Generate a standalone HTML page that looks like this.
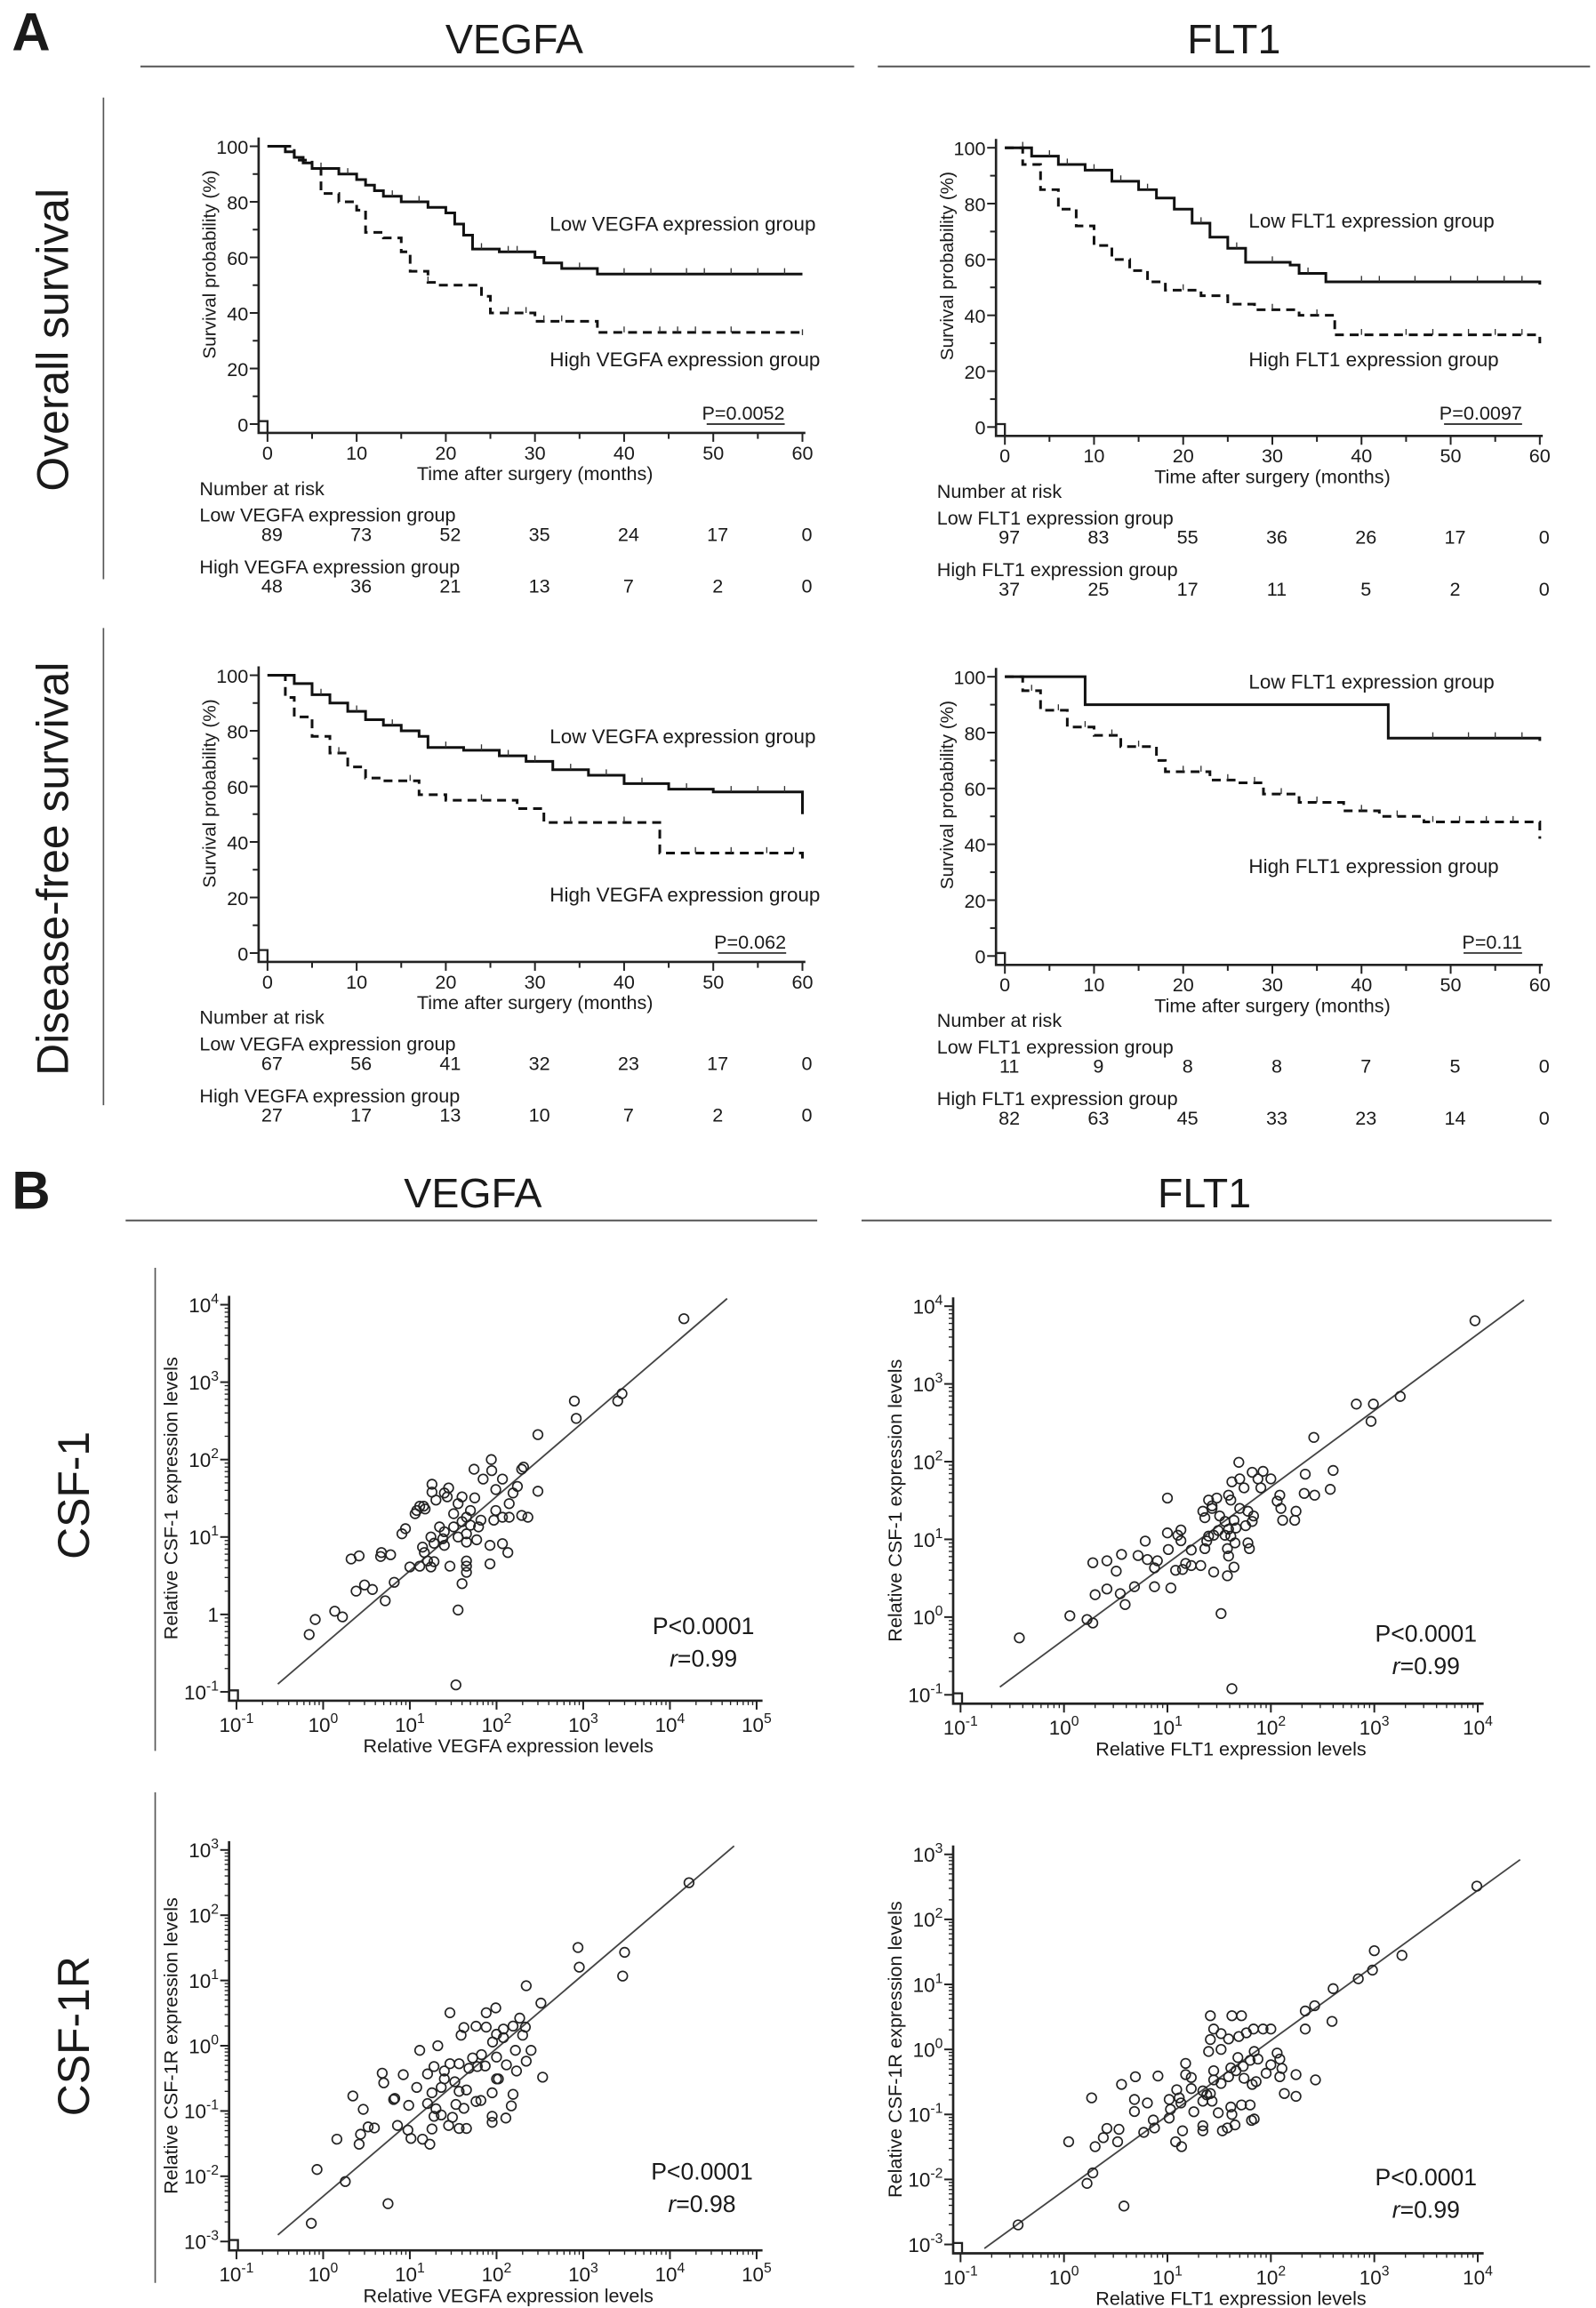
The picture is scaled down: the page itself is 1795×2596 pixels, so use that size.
<!DOCTYPE html>
<html><head><meta charset="utf-8"><style>
html,body{margin:0;padding:0;background:#fff}
svg{display:block}
text{font-family:"Liberation Sans",sans-serif;fill:#1a1a1a}
</style></head><body>
<svg id="fig" xmlns="http://www.w3.org/2000/svg" width="1795" height="2596" viewBox="0 0 1080 1562">
<rect width="1080" height="1562" fill="#fff"/>
<text x="8" y="34" font-size="36" font-weight="bold">A</text>
<text x="348" y="36" font-size="28" text-anchor="middle">VEGFA</text>
<line x1="95" y1="45" x2="578" y2="45" stroke="#555" stroke-width="1.2"/>
<text x="835" y="36" font-size="28" text-anchor="middle">FLT1</text>
<line x1="594" y1="45" x2="1076" y2="45" stroke="#555" stroke-width="1.2"/>
<line x1="70" y1="66" x2="70" y2="392" stroke="#555"/>
<line x1="70" y1="425" x2="70" y2="748" stroke="#555"/>
<text transform="translate(46,230) rotate(-90)" font-size="30" text-anchor="middle">Overall survival</text>
<text transform="translate(46,588) rotate(-90)" font-size="30" text-anchor="middle">Disease-free survival</text>

<text x="8" y="818" font-size="36" font-weight="bold">B</text>
<text x="320" y="817" font-size="28" text-anchor="middle">VEGFA</text>
<line x1="85" y1="826" x2="553" y2="826" stroke="#555" stroke-width="1.2"/>
<text x="815" y="817" font-size="28" text-anchor="middle">FLT1</text>
<line x1="583" y1="826" x2="1050" y2="826" stroke="#555" stroke-width="1.2"/>
<line x1="105" y1="858" x2="105" y2="1185" stroke="#555"/>
<line x1="105" y1="1213" x2="105" y2="1545" stroke="#555"/>
<text transform="translate(60,1012) rotate(-90)" font-size="30" text-anchor="middle">CSF-1</text>
<text transform="translate(60,1378) rotate(-90)" font-size="30" text-anchor="middle">CSF-1R</text>
</svg>
<script>
// ---------- Kaplan-Meier data ----------
const kmTicksX=[0,10,20,30,40,50,60];
const kmTicksY=[0,20,40,60,80,100];
const osVegfaLowT=[0,2,3,4,5,8,10,11,12,13,15,18,20,21,22,23,26,30,31,33,37,60];
const osVegfaLowS=[100,98,96,94,92,90,88,86,84,82,80,78,76,72,68,63,62,60,58,56,54,54];
const osVegfaLowC=[3,6,9,14,17,24,27,28,35,40,43,47,49,52,55,58];
const osVegfaHighT=[0,3,5,6,8,10,11,13,15,16,18,19,24,25,30,37,60];
const osVegfaHighS=[100,95,92,83,80,77,69,67,62,55,51,50,46,40,37,33,32];
const osVegfaHighC=[18,27,29,31,33,40,44,46,48,52,60];
const osFltLowT=[0,3,6,9,12,15,17,19,21,23,25,27,32,33,36,60];
const osFltLowS=[100,97,94,92,88,85,82,78,73,68,64,59,58,55,52,51];
const osFltLowC=[2,5,7,10,13,16,22,26,30,34,40,42,46,50,53,56,58];
const osFltHighT=[0,2,4,6,8,10,12,14,16,18,22,25,28,33,37,60];
const osFltHighS=[100,94,85,78,72,65,60,56,52,49,47,44,42,40,33,30];
const osFltHighC=[20,30,35,40,45,48,52,55,58];
const dfsVegfaLowT=[0,3,5,7,9,11,13,15,17,18,22,26,29,32,36,40,45,50,60];
const dfsVegfaLowS=[100,97,93,90,87,84,82,80,78,74,73,71,69,66,64,61,59,58,50];
const dfsVegfaLowC=[6,10,14,20,24,27,30,34,38,42,47,52,55,58];
const dfsVegfaHighT=[0,2,3,5,7,9,11,13,17,20,28,31,44,60];
const dfsVegfaHighS=[100,92,85,78,72,67,63,62,57,55,52,47,36,34];
const dfsVegfaHighC=[8,16,24,34,40,48,52,56,59];
const dfsFltLowT=[0,9,43,60];
const dfsFltLowS=[100,90,78,77];
const dfsFltLowC=[48,52,55,58];
const dfsFltHighT=[0,2,4,7,10,13,17,18,23,26,29,33,38,42,47,60];
const dfsFltHighS=[100,95,88,82,79,75,70,66,63,62,58,55,52,50,48,42];
const dfsFltHighC=[3,6,9,12,15,20,22,25,28,31,35,40,44,48,51,54,57];
const osVegfaRiskLow=[89,73,52,35,24,17,0];
const osVegfaRiskHigh=[48,36,21,13,7,2,0];
const osFltRiskLow=[97,83,55,36,26,17,0];
const osFltRiskHigh=[37,25,17,11,5,2,0];
const dfsVegfaRiskLow=[67,56,41,32,23,17,0];
const dfsVegfaRiskHigh=[27,17,13,10,7,2,0];
const dfsFltRiskLow=[11,9,8,8,7,5,0];
const dfsFltRiskHigh=[82,63,45,33,23,14,0];

// ---------- Scatter data (raw relative expression) ----------
const s1X=[14500,790,830,2500,2800,300,300,87,55,88,117,195,205,174,98,70,56,40,155,140,117,140,230,195,98,93,66,50,45,36,32,25,28,27,18,18,20,14.4,11.5,12,22,25,32,40,50,62,45,36,24,17.5,19,25,45,59,84,117,135,84,45,45,45,40,29,36,34,14,14.7,16,17.5,19,13,10,8.1,8.9,6,4.7,4.6,2.6,2.1,2.4,3,3.7,6.6,5.2,1.36,1.67,0.81,0.69,13,15];
const s1Y=[6600,570,340,570,710,210,39,100,75,72,56,75,80,45,41,56,32,33,37,27,18,18,18,19,22,16.5,16.5,22,18,27,20,37,43,33,48,38,30,25,20,22,13.5,11.7,13.5,15.8,14.2,13.5,11,10,9.5,10,8.3,7.8,8.6,9.2,7.8,8.2,6.3,4.5,4.9,4.2,3.5,2.5,4.2,1.14,0.123,7.4,6.3,4.9,4.1,4.8,4.2,4.1,11,12.8,5.9,6.3,5.6,5.7,5.2,2.0,2.4,2.1,2.6,1.5,1.1,0.93,0.86,0.55,25,23];
const s1Fit=[[0.30,0.126],[45700,12000]];
const s2X=[9400,670,980,930,1780,260,215,400,375,210,265,175,170,130,125,115,122,100,84,66,49,50,42,75,80,55,39,41,30,25,27,22,23,27,32,36,44,50,60,68,66,57,46,39,31,25,28,36,41,45,60,62,38,39,44,38,28,33,42,23,24,17,21,17,15,14,12,13.5,12.6,13.5,10.2,10,10,8,7.5,6.1,6.4,5.2,3.6,3.2,2.6,1.9,2.6,2.0,3.5,3.9,4.8,7.5,10.8,1.14,1.67,1.9,0.37];
const s2Y=[6500,550,550,330,690,205,69,77,44,39,37,23,17.6,17.6,25,31,37,60,75,73,98,60,55,60,46,46,37,32,34,32,27,23,19,25,20,17,17.6,25,23,20,17,15,14,13.5,13,11,11.3,11.3,11,9,9,7.6,7.6,6.1,4.4,3.4,3.8,1.11,0.12,7.6,9.5,7.3,4.6,4.6,4.9,4.1,4.0,9.6,11.3,13.2,7.4,12.1,34,5.3,4.3,9.5,5.5,6.2,6.4,3.9,5.3,5.0,2.3,1.94,2.0,1.45,2.46,2.46,2.37,1.04,0.93,0.84,0.54];
const s2Fit=[[0.24,0.126],[28000,12000]];
const s3X=[16600,870,900,3000,2850,220,325,340,29,98,76,42,39,58,76,100,120,155,185,215,200,90,120,165,250,220,170,130,100,100,67,74,60,48,53,37,29,25,21,13,19,16,12,16,18,23,19,20,28,31,34,42,37,45,37,45,58,66,89,89,89,128,148,155,105,25,23,33,18,14,17,10.3,9.5,9.7,7.2,8.4,5.0,4.8,6.7,6.5,3.9,3.3,2.9,2.2,2.7,2.6,1.44,0.85,1.8,5.6,0.73];
const s3Y=[315,32,16,27,11.7,8.3,4.5,0.33,3.2,3.8,3.2,1.9,1.45,1.99,1.93,1.5,1.8,2.0,2.65,1.93,1.45,1.14,1.33,0.85,0.85,0.58,0.41,0.51,0.67,0.31,0.73,0.49,0.48,0.45,0.65,0.53,0.53,0.41,1.0,0.85,0.48,0.37,0.23,0.13,0.19,0.087,0.083,0.108,0.06,0.08,0.126,0.11,0.054,0.054,0.2,0.21,0.14,0.145,0.19,0.083,0.067,0.078,0.12,0.18,0.31,0.31,0.23,0.28,0.053,0.037,0.031,0.038,0.051,0.122,0.06,0.36,0.27,0.38,0.156,0.15,0.055,0.057,0.106,0.17,0.044,0.031,0.037,0.0127,0.0083,0.0038,0.0019];
const s3Fit=[[0.30,0.00126],[55000,1150]];
const s4X=[9800,1000,1850,960,700,400,265,215,215,390,270,175,175,135,122,128,122,115,100,90,100,84,68,58,49,52,42,26,28,33,26,25,39,33,48,69,75,63,54,41,46,55,66,72,39,33,28,28,26,27,22,22,24,17,15,15,17,12.3,13,13.5,10.4,10.7,10.4,18,31,41,42,52,63,65,69,45,38,34,22,22,14,12,13.7,8.1,6.4,7.3,7.5,5.9,4.9,4.8,4.8,3.6,3.4,3.3,2.6,2.4,2.0,1.85,1.11,1.9,1.67,3.8,0.36];
const s4Y=[325,33,28,16.6,12.2,8.6,4.7,3.9,2.06,2.7,0.34,0.41,0.19,0.21,0.38,0.51,0.71,0.88,0.58,0.43,2.06,2.06,2.06,1.8,1.58,3.3,3.3,3.3,2.06,1.75,1.42,0.93,1.45,1.0,0.75,0.93,0.71,0.68,0.55,0.52,0.47,0.36,0.29,0.32,0.38,0.3,0.34,0.47,0.21,0.16,0.23,0.16,0.2,0.37,0.41,0.61,0.25,0.24,0.18,0.15,0.17,0.12,0.088,0.11,0.106,0.13,0.1,0.14,0.14,0.081,0.085,0.069,0.062,0.056,0.067,0.056,0.056,0.038,0.032,0.39,0.15,0.082,0.062,0.053,0.38,0.17,0.111,0.29,0.059,0.038,0.061,0.044,0.032,0.18,0.038,0.0126,0.0087,0.0039,0.002];
const s4Fit=[[0.17,0.00087],[25700,830]];

const NS='http://www.w3.org/2000/svg';
const svg=document.getElementById('fig');
function mk(tag,attrs,parent){const e=document.createElementNS(NS,tag);for(const k in attrs)e.setAttribute(k,attrs[k]);(parent||svg).appendChild(e);return e;}
function txt(s,attrs,parent){const e=mk('text',attrs,parent);e.textContent=s;return e;}

function stepAt(T,S,t){let v=S[0];for(let i=0;i<T.length;i++){if(T[i]<=t)v=S[i];}return v;}
function kmPlot(cfg){
  const g=mk('g',{});
  
  
  const x=t=>cfg.x0+(t/60)*(cfg.x60-cfg.x0);
  const y=s=>cfg.y0+(s/100)*(cfg.y100-cfg.y0);
  const ax=cfg.x0-6, ay=cfg.y0+6;
  const axes=mk('path',{d:`M${ax},${cfg.y100-6}V${ay}H${x(60)+2}`,fill:'none',stroke:'#222','stroke-width':1.6},g);
  
  
  mk('path',{d:`M${ax},${ay-8}H${ax+6}V${ay}`,fill:'none',stroke:'#222','stroke-width':1.4},g);
  for(let t=0;t<=60;t+=5){mk('line',{x1:x(t),x2:x(t),y1:ay,y2:ay+(t%10===0?6:4),stroke:'#222','stroke-width':1.2},g);}
  for(let s=0;s<=100;s+=10){mk('line',{x1:ax-(s%20===0?6:4),x2:ax,y1:y(s),y2:y(s),stroke:'#222','stroke-width':1.2},g);}
  kmTicksX.forEach(t=>{const e=txt(String(t),{x:x(t),y:ay+18,'font-size':13,'text-anchor':'middle'},g);
    
    });
  kmTicksY.forEach(s=>{const e=txt(String(s),{x:ax-7,y:y(s)+5,'font-size':13,'text-anchor':'end'},g);
    
    });
  const yt=txt('Survival probability (%)',{transform:`translate(${ax-29},${cfg.y100+80}) rotate(-90)`,'font-size':12.5,'text-anchor':'middle'},g);
  
  
  const xt=txt('Time after surgery (months)',{x:x(30),y:ay+32,'font-size':13,'text-anchor':'middle'},g);
  
  
  cfg.series.forEach(sr=>{
    let d=`M${x(sr.T[0])},${y(sr.S[0])}`;
    for(let i=1;i<sr.T.length;i++){d+=`H${x(sr.T[i])}V${y(sr.S[i])}`;}
    const p=mk('path',{d:d,fill:'none',stroke:'#111','stroke-width':1.8,'stroke-dasharray':sr.dash?'6,4':'none'},g);
    
    
    sr.C.forEach(t=>{const v=stepAt(sr.T,sr.S,t);mk('line',{x1:x(t),x2:x(t),y1:y(v),y2:y(v)-4,stroke:'#333','stroke-width':0.8},g);});
  });
  cfg.labels.forEach(l=>{const e=txt(l.t,{x:l.x,y:l.y,'font-size':13.5},g);
    
    });
  const pv=txt(cfg.p,{x:cfg.px,y:cfg.py,'font-size':13,'text-anchor':'end'},g);
  
  
  const pw=cfg.p.length*6.6;
  mk('line',{x1:cfg.px-pw,x2:cfg.px,y1:cfg.py+3,y2:cfg.py+3,stroke:'#222','stroke-width':1},g);
  const lx=ax-40, base=ay+42;
  const nr=txt('Number at risk',{x:lx,y:base,'font-size':13},g);
  
  
  const lowL=txt(cfg.lowName,{x:lx,y:base+18,'font-size':13},g);
  
  
  const highL=txt(cfg.highName,{x:lx,y:base+53,'font-size':13},g);
  
  
  kmTicksX.forEach((t,i)=>{
    const a=txt(String(cfg.riskLow[i]),{x:x(t)+3,y:base+31,'font-size':13,'text-anchor':'middle'},g);
    
    
    const b=txt(String(cfg.riskHigh[i]),{x:x(t)+3,y:base+66,'font-size':13,'text-anchor':'middle'},g);
    
    
  });
}
const R2=358;
kmPlot({name:'os-vegfa-km-plot',x0:181,x60:543,y0:287,y100:99,p:'P=0.0052',px:531,py:284,
  series:[{T:osVegfaLowT,S:osVegfaLowS,C:osVegfaLowC,dash:false,name:'low-vegfa-curve'},{T:osVegfaHighT,S:osVegfaHighS,C:osVegfaHighC,dash:true,name:'high-vegfa-curve'}],
  labels:[{t:'Low VEGFA expression group',x:372,y:156,n:'low-group-label'},{t:'High VEGFA expression group',x:372,y:248,n:'high-group-label'}],
  lowName:'Low VEGFA expression group',highName:'High VEGFA expression group',riskLow:osVegfaRiskLow,riskHigh:osVegfaRiskHigh});
kmPlot({name:'os-flt1-km-plot',x0:680,x60:1042,y0:289,y100:100,p:'P=0.0097',px:1030,py:284,
  series:[{T:osFltLowT,S:osFltLowS,C:osFltLowC,dash:false,name:'low-flt1-curve'},{T:osFltHighT,S:osFltHighS,C:osFltHighC,dash:true,name:'high-flt1-curve'}],
  labels:[{t:'Low FLT1 expression group',x:845,y:154,n:'low-group-label'},{t:'High FLT1 expression group',x:845,y:248,n:'high-group-label'}],
  lowName:'Low FLT1 expression group',highName:'High FLT1 expression group',riskLow:osFltRiskLow,riskHigh:osFltRiskHigh});
kmPlot({name:'dfs-vegfa-km-plot',x0:181,x60:543,y0:287+R2,y100:99+R2,p:'P=0.062',px:532,py:642,
  series:[{T:dfsVegfaLowT,S:dfsVegfaLowS,C:dfsVegfaLowC,dash:false,name:'low-vegfa-curve'},{T:dfsVegfaHighT,S:dfsVegfaHighS,C:dfsVegfaHighC,dash:true,name:'high-vegfa-curve'}],
  labels:[{t:'Low VEGFA expression group',x:372,y:503,n:'low-group-label'},{t:'High VEGFA expression group',x:372,y:610,n:'high-group-label'}],
  lowName:'Low VEGFA expression group',highName:'High VEGFA expression group',riskLow:dfsVegfaRiskLow,riskHigh:dfsVegfaRiskHigh});
kmPlot({name:'dfs-flt1-km-plot',x0:680,x60:1042,y0:289+R2,y100:100+R2,p:'P=0.11',px:1030,py:642,
  series:[{T:dfsFltLowT,S:dfsFltLowS,C:dfsFltLowC,dash:false,name:'low-flt1-curve'},{T:dfsFltHighT,S:dfsFltHighS,C:dfsFltHighC,dash:true,name:'high-flt1-curve'}],
  labels:[{t:'Low FLT1 expression group',x:845,y:466,n:'low-group-label'},{t:'High FLT1 expression group',x:845,y:591,n:'high-group-label'}],
  lowName:'Low FLT1 expression group',highName:'High FLT1 expression group',riskLow:dfsFltRiskLow,riskHigh:dfsFltRiskHigh});

function powLabel(g,exp,x,y,anchor,plainOne){
  const e=txt('',{x:x,y:y,'font-size':13.5,'text-anchor':anchor},g);
  
  
  if(plainOne&&exp===0){e.textContent='1';return;}
  const a=document.createElementNS(NS,'tspan');a.textContent='10';e.appendChild(a);
  const b=document.createElementNS(NS,'tspan');b.setAttribute('dy','-6');b.setAttribute('font-size','9.5');b.textContent=String(exp);e.appendChild(b);
}
function scatter(cfg){
  const g=mk('g',{});
  
  
  const x=v=>cfg.xa+(Math.log10(v)-cfg.xmin)*(cfg.xb-cfg.xa)/(cfg.xmax-cfg.xmin);
  const y=v=>cfg.ya+(Math.log10(v)-cfg.ymin)*(cfg.yb-cfg.ya)/(cfg.ymax-cfg.ymin);
  const ax=cfg.xa-5, ay=cfg.ya+6;
  const axes=mk('path',{d:`M${ax},${cfg.yb-6}V${ay}H${cfg.xb+4}`,fill:'none',stroke:'#222','stroke-width':1.6},g);
  
  
  mk('path',{d:`M${ax},${ay-7}H${ax+6}V${ay}`,fill:'none',stroke:'#222','stroke-width':1.4},g);
  for(let e=cfg.xmin;e<=cfg.xmax;e++){
    mk('line',{x1:x(Math.pow(10,e)),x2:x(Math.pow(10,e)),y1:ay,y2:ay+6,stroke:'#222','stroke-width':1.2},g);
    if(e<cfg.xmax)for(let k=2;k<10;k++){const xx=x(k*Math.pow(10,e));mk('line',{x1:xx,x2:xx,y1:ay,y2:ay+3,stroke:'#222','stroke-width':0.8},g);}
    powLabel(g,e,x(Math.pow(10,e)),ay+21,'middle',false);
  }
  for(let e=cfg.ymin;e<=cfg.ymax;e++){
    mk('line',{x1:ax-6,x2:ax,y1:y(Math.pow(10,e)),y2:y(Math.pow(10,e)),stroke:'#222','stroke-width':1.2},g);
    if(e<cfg.ymax)for(let k=2;k<10;k++){const yy=y(k*Math.pow(10,e));mk('line',{x1:ax-3,x2:ax,y1:yy,y2:yy,stroke:'#222','stroke-width':0.8},g);}
    powLabel(g,e,ax-7,y(Math.pow(10,e))+5,'end',cfg.plainOne);
  }
  const fl=mk('line',{x1:x(cfg.fit[0][0]),y1:y(cfg.fit[0][1]),x2:x(cfg.fit[1][0]),y2:y(cfg.fit[1][1]),stroke:'#444','stroke-width':1.1},g);
  
  
  cfg.X.forEach((v,i)=>{
    const c=mk('circle',{cx:x(v),cy:y(cfg.Y[i]),r:3.2,fill:'none',stroke:'#222','stroke-width':1},g);
    
    
  });
  const xt=txt(cfg.xTitle,{x:(cfg.xa+cfg.xb)/2+8,y:ay+35,'font-size':13,'text-anchor':'middle'},g);
  
  
  const yt=txt(cfg.yTitle,{transform:`translate(${ax-35},${(cfg.ya+cfg.yb)/2}) rotate(-90)`,'font-size':13,'text-anchor':'middle'},g);
  
  
  const p=txt('P<0.0001',{x:cfg.px,y:cfg.py,'font-size':16,'text-anchor':'middle'},g);
  
  
  const r=txt('',{x:cfg.px,y:cfg.py+22,'font-size':16,'text-anchor':'middle'},g);
  
  
  const ri=document.createElementNS(NS,'tspan');ri.setAttribute('font-style','italic');ri.textContent='r';r.appendChild(ri);
  const rv=document.createElementNS(NS,'tspan');rv.textContent='='+cfg.r;r.appendChild(rv);
}
scatter({name:'vegfa-csf1-scatter',xa:160,xb:512,xmin:-1,xmax:5,ya:1145,yb:883,ymin:-1,ymax:4,plainOne:true,X:s1X,Y:s1Y,fit:s1Fit,
  xTitle:'Relative VEGFA expression levels',yTitle:'Relative CSF-1 expression levels',px:476,py:1106,r:'0.99'});
scatter({name:'flt1-csf1-scatter',xa:650,xb:1000,xmin:-1,xmax:4,ya:1147,yb:884,ymin:-1,ymax:4,plainOne:false,X:s2X,Y:s2Y,fit:s2Fit,
  xTitle:'Relative FLT1 expression levels',yTitle:'Relative CSF-1 expression levels',px:965,py:1111,r:'0.99'});
scatter({name:'vegfa-csf1r-scatter',xa:160,xb:512,xmin:-1,xmax:5,ya:1517,yb:1252,ymin:-3,ymax:3,plainOne:false,X:s3X,Y:s3Y,fit:s3Fit,
  xTitle:'Relative VEGFA expression levels',yTitle:'Relative CSF-1R expression levels',px:475,py:1475,r:'0.98'});
scatter({name:'flt1-csf1r-scatter',xa:650,xb:1000,xmin:-1,xmax:4,ya:1519,yb:1255,ymin:-3,ymax:3,plainOne:false,X:s4X,Y:s4Y,fit:s4Fit,
  xTitle:'Relative FLT1 expression levels',yTitle:'Relative CSF-1R expression levels',px:965,py:1479,r:'0.99'});
</script>
</body></html>
